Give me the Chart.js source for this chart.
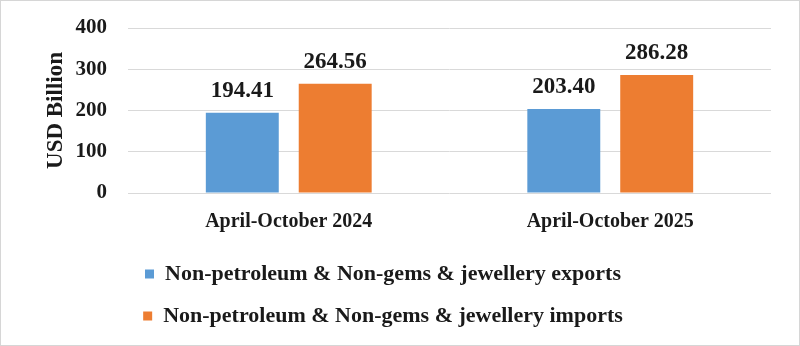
<!DOCTYPE html>
<html>
<head>
<meta charset="utf-8">
<script src="https://cdn.jsdelivr.net/npm/chart.js@4.4.1/dist/chart.umd.min.js"></script>
<style>
  html, body { margin: 0; padding: 0; background: #fff; }
  .frame { width: 798px; height: 344px; border: 1px solid #d6d6d6; position: relative; }
  canvas { display: block; }
</style>
</head>
<body>
<div class="frame"><canvas id="chart" width="798" height="344"></canvas></div>
<script>
/* ─── Data ───────────────────────────────────────────────────────────────── */
const categories = ['April-October 2024', 'April-October 2025'];
const exportsVals = [194.41, 203.40];
const importsVals = [264.56, 286.28];
const seriesNames = [
  'Non-petroleum & Non-gems & jewellery exports',
  'Non-petroleum & Non-gems & jewellery imports'
];
const yTicks = [0, 100, 200, 300, 400];

const FONT = '"Liberation Serif", "Times New Roman", serif';

/* ─── Value labels above bars ────────────────────────────────────────────── */
const valueLabels = {
  id: 'valueLabels',
  afterLayout(chart) {
    // legend sits a little left of centre in the original
    chart.legend.left -= 22;
    chart.legend.right -= 22;
  },
  afterDatasetsDraw(chart) {
    const { ctx } = chart;
    ctx.save();
    ctx.font = `bold 23px ${FONT}`;
    ctx.fillStyle = '#1a1a1a';
    ctx.textAlign = 'center';
    ctx.textBaseline = 'alphabetic';
    chart.data.datasets.forEach((ds, i) => {
      chart.getDatasetMeta(i).data.forEach((bar, j) => {
        ctx.fillText(ds.data[j].toFixed(2), bar.x, bar.y - 16);
      });
    });
    ctx.restore();
  }
};

new Chart(document.getElementById('chart'), {
  type: 'bar',
  data: {
    labels: categories,
    datasets: [
      { label: seriesNames[0], data: exportsVals, backgroundColor: '#5b9bd5' },
      { label: seriesNames[1], data: importsVals, backgroundColor: '#ed7d31' }
    ]
  },
  options: {
    responsive: false,
    animation: false,
    layout: { padding: { left: 38, right: 28, top: 27, bottom: 8 } },
    datasets: { bar: { barPercentage: 0.785, categoryPercentage: 0.578 } },
    scales: {
      x: {
        grid: { display: false },
        border: { display: false },
        ticks: { color: '#1a1a1a', font: { family: FONT, size: 20, weight: 'bold' }, padding: 9 }
      },
      y: {
        min: 0, max: 400,
        afterBuildTicks: axis => { axis.ticks = yTicks.map(v => ({ value: v })); },
        afterFit: axis => {
          axis.width = 89;
          axis.paddingTop = 0;
          axis.paddingBottom = 0;
        },
        grid: { color: '#d9d9d9', drawTicks: false },
        border: { display: false },
        ticks: { color: '#1a1a1a', font: { family: FONT, size: 21, weight: 'bold' }, padding: 21 },
        title: { display: true, text: 'USD Billion', color: '#1a1a1a', font: { family: FONT, size: 23, weight: 'bold' }, padding: 3 }
      }
    },
    plugins: {
      legend: {
        position: 'bottom',
        labels: {
          color: '#1a1a1a',
          font: { family: FONT, size: 22, weight: 'bold' },
          boxWidth: 9, boxHeight: 9,
          padding: 20
        }
      },
      tooltip: { enabled: false }
    }
  },
  plugins: [valueLabels]
});
</script>
</body>
</html>
